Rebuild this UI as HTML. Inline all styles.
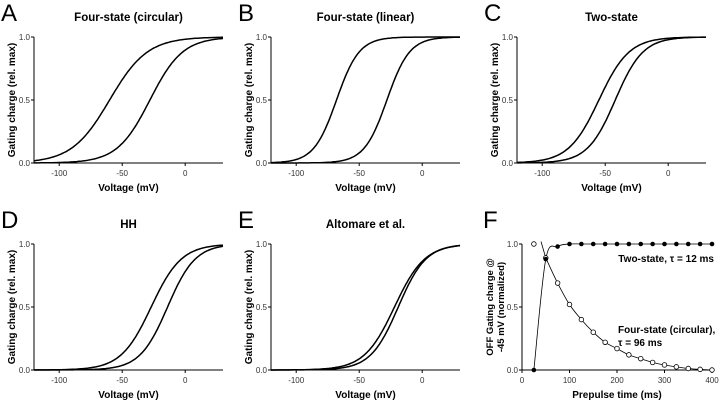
<!DOCTYPE html>
<html><head><meta charset="utf-8"><style>
html,body{margin:0;padding:0;background:#fff;}
svg{display:block;font-family:"Liberation Sans",Arial,sans-serif;}
</style></head><body>
<svg id="fig" width="720" height="402" viewBox="0 0 720 402"></svg>
<script>
// Boltzmann panels: parameters (V1/2 in mV, slope in mV)
const panelLetters = ["A","B","C","D","E"];
const panelTitles = ["Four-state (circular)","Four-state (linear)","Two-state","HH","Altomare et al."];
const curveVhalf = [[-60,-28],[-68,-28],[-55,-42],[-27,-14],[-22,-19]];
const curveSlope = [[15,13],[9,9],[12,11],[12,11],[12,11]];
const xTicks = [-100,-50,0];
const yTicks = [0,0.5,1];
const yTickLabels = ["0.0","0.5","1.0"];
// Panel F
const prepulseTimes = [25,50,75,100,125,150,175,200,225,250,275,300,325,350,375,400];
const twoStateVals = [0,0.88,0.98,1,1,1,1,1,1,1,1,1,1,1,1,1];
const fourStateVals = [1,0.89,0.69,0.52,0.40,0.30,0.22,0.17,0.12,0.09,0.06,0.04,0.025,0.012,0.005,0];
const fTicks = [0,100,200,300,400];

const NS="http://www.w3.org/2000/svg";
const svg=document.getElementById('fig');
function mk(tag,attrs,parent,text){const e=document.createElementNS(NS,tag);for(const k in attrs)e.setAttribute(k,attrs[k]);if(text!==undefined)e.textContent=text;(parent||svg).appendChild(e);return e;}

const layout=[{dx:0,dy:0},{dx:237,dy:0},{dx:483,dy:0},{dx:0,dy:207},{dx:237,dy:207}];
panelLetters.forEach((L,i)=>{
  const {dx,dy}=layout[i];
  const x0=34+dx, x1=223+dx, yTop=37+dy, yBot=163+dy;
  const xs=v=>x0+(v+120)/150*(x1-x0);
  const ys=v=>yBot-v*(yBot-yTop);
  const g=mk('g',{});
  
  
  const lt=mk('text',{x:dx+1,y:dy+21,'font-size':24,fill:'#000'},g,L);
  
  const tt=mk('text',{x:(x0+x1)/2,y:dy+21,'font-size':11.5,'font-weight':'bold','text-anchor':'middle'},g,panelTitles[i]);
  
  const ax=mk('path',{d:`M${x0},${yTop}V${yBot}H${x1}`,stroke:'#000','stroke-width':1,fill:'none'},g);
  
  yTicks.forEach((t,j)=>{mk('line',{x1:x0-3,x2:x0,y1:ys(t),y2:ys(t),stroke:'#000'},g);
    const e=mk('text',{x:x0-4,y:ys(t)+3,'font-size':8,'text-anchor':'end',fill:'#333'},g,yTickLabels[j]);
    });
  xTicks.forEach(t=>{mk('line',{x1:xs(t),x2:xs(t),y1:yBot,y2:yBot+3,stroke:'#000'},g);
    const e=mk('text',{x:xs(t),y:yBot+13,'font-size':8,'text-anchor':'middle',fill:'#333'},g,String(t));
    });
  const xl=mk('text',{x:(x0+x1)/2,y:yBot+28,'font-size':10,'font-weight':'bold','text-anchor':'middle'},g,'Voltage (mV)');
  
  const yl=mk('text',{x:0,y:0,'font-size':10,'font-weight':'bold','text-anchor':'middle',transform:`translate(${dx+15},${(yTop+yBot)/2}) rotate(-90)`},g,'Gating charge (rel. max)');
  
  curveVhalf[i].forEach((vh,c)=>{
    const k=curveSlope[i][c];let d='';
    for(let v=-120;v<=30;v+=1){const q=1/(1+Math.exp(-(v-vh)/k));d+=(v===-120?'M':'L')+xs(v).toFixed(1)+','+ys(q).toFixed(1);}
    const p=mk('path',{d,stroke:'#000','stroke-width':1.5,fill:'none'},g);
    
  });
});

// Panel F
(function(){
  const dy=207,x0=522,x1=712,yTop=244,yBot=370;
  const xs=t=>x0+t/400*(x1-x0);
  const ys=v=>yBot-v*(yBot-yTop);
  const g=mk('g',{});
  
  const lt=mk('text',{x:483,y:dy+21,'font-size':24},g,'F');
  
  const ax=mk('path',{d:`M${x0},${yTop}V${yBot}H${x1}`,stroke:'#000',fill:'none'},g);
  
  yTicks.forEach((t,j)=>{mk('line',{x1:x0-3,x2:x0,y1:ys(t),y2:ys(t),stroke:'#000'},g);
    const e=mk('text',{x:x0-4,y:ys(t)+3,'font-size':8,'text-anchor':'end',fill:'#333'},g,yTickLabels[j]);
    });
  fTicks.forEach(t=>{mk('line',{x1:xs(t),x2:xs(t),y1:yBot,y2:yBot+3,stroke:'#000'},g);
    const e=mk('text',{x:xs(t),y:yBot+13,'font-size':8,'text-anchor':'middle',fill:'#333'},g,String(t));
    });
  const xl=mk('text',{x:(x0+x1)/2,y:yBot+28,'font-size':10,'font-weight':'bold','text-anchor':'middle'},g,'Prepulse time (ms)');
  
  const yl=mk('text',{'font-size':9.5,'font-weight':'bold','text-anchor':'middle',transform:`translate(493,${(yTop+yBot)/2}) rotate(-90)`},g);
  
  mk('tspan',{x:0,dy:0},yl,'OFF Gating charge @');
  mk('tspan',{x:0,dy:11},yl,'-45 mV (normalized)');
  function smooth(vals,start){let d='';const pts=prepulseTimes.map((t,j)=>[xs(t),ys(vals[j])]).slice(start);
    pts.forEach((p,j)=>{if(j===0){d='M'+p[0]+','+p[1];return;}
      const p0=pts[Math.max(0,j-2)],p1=pts[j-1],p3=pts[Math.min(pts.length-1,j+1)];
      const c1=[p1[0]+(p[0]-p0[0])/6,p1[1]+(p[1]-p0[1])/6],c2=[p[0]-(p3[0]-p1[0])/6,p[1]-(p3[1]-p1[1])/6];
      d+=`C${c1[0].toFixed(1)},${c1[1].toFixed(1)} ${c2[0].toFixed(1)},${c2[1].toFixed(1)} ${p[0].toFixed(1)},${p[1].toFixed(1)}`;});return d;}
  const l1=mk('path',{d:smooth(fourStateVals,1),stroke:'#000','stroke-width':0.8,fill:'none'},g);
  
  const l0=mk('path',{d:`M${xs(40)},${ys(1.02)}L${xs(prepulseTimes[1])},${ys(fourStateVals[1])}`,stroke:'#000','stroke-width':0.8,fill:'none'},g);
  
  const l2=mk('path',{d:smooth(twoStateVals,0),stroke:'#000','stroke-width':0.8,fill:'none'},g);
  
  prepulseTimes.forEach((t,j)=>{
    const c=mk('circle',{cx:xs(t),cy:ys(fourStateVals[j]),r:2.3,fill:'#fff',stroke:'#000','stroke-width':0.8},g);
    
  });
  prepulseTimes.forEach((t,j)=>{
    const c=mk('circle',{cx:xs(t),cy:ys(twoStateVals[j]),r:2.3,fill:'#000'},g);
    
  });
  const a=mk('text',{x:714,y:262,'font-size':10,'font-weight':'bold','text-anchor':'end'},g,'Two-state, τ = 12 ms');
  
  const b=mk('text',{x:618,y:333,'font-size':10,'font-weight':'bold'},g,'Four-state (circular),');
  
  const b2=mk('text',{x:618,y:346,'font-size':10,'font-weight':'bold'},g,'τ = 96 ms');
  
})();
</script>
</body></html>
